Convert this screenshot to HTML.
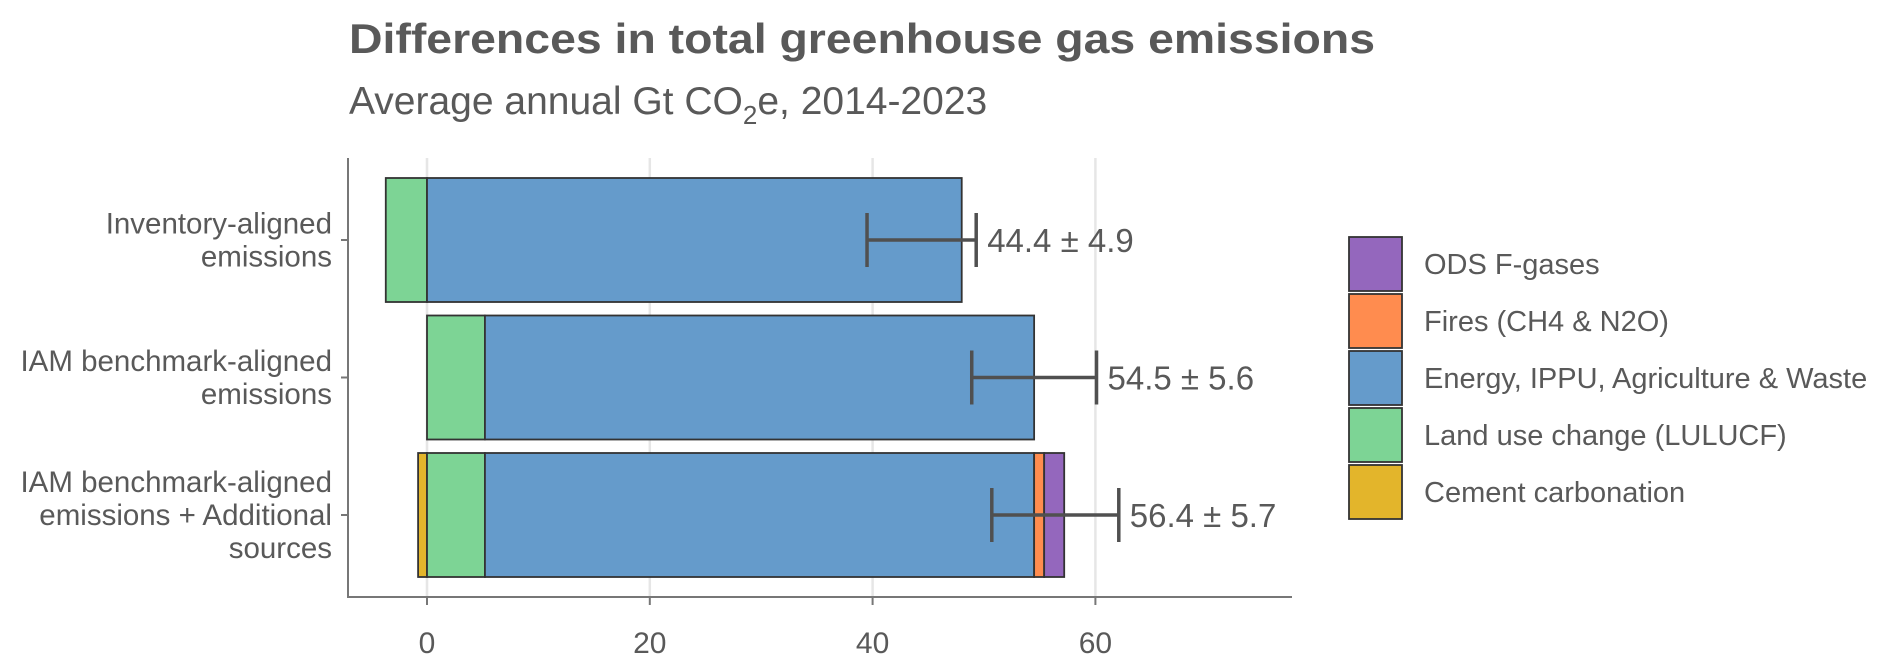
<!DOCTYPE html>
<html><head><meta charset="utf-8"><style>
html,body{margin:0;padding:0;background:#fff;}
svg{display:block;font-family:"Liberation Sans",sans-serif;}
</style></head><body>
<svg id="chart" width="1892" height="671" viewBox="0 0 1892 671">
<text x="349" y="53" font-size="42" font-weight="bold" fill="#595959" textLength="1026" lengthAdjust="spacingAndGlyphs">Differences in total greenhouse gas emissions</text>
<text x="349" y="114" font-size="39" fill="#595959">Average annual Gt CO<tspan font-size="26" dy="10">2</tspan><tspan dy="-10">e, 2014-2023</tspan></text>
<g id="grid"></g><g id="bars"></g><g id="axes"></g><g id="legend"></g>
</svg>
<script>
const categories = [["Inventory-aligned","emissions"],["IAM benchmark-aligned","emissions"],["IAM benchmark-aligned","emissions + Additional","sources"]];
const cementValues = [0, 0, -0.8];
const luValues = [-3.7, 5.2, 5.2];
const energyValues = [48.0, 49.3, 49.3];
const firesValues = [0, 0, 0.9];
const odsValues = [0, 0, 1.8];
const totals = [44.4, 54.5, 56.4];
const errors = [4.9, 5.6, 5.7];
const xTicks = [0, 20, 40, 60];
const legendLabels = ["ODS F-gases","Fires (CH4 & N2O)","Energy, IPPU, Agriculture & Waste","Land use change (LULUCF)","Cement carbonation"];
const legendColors = ["#9467bd","#ff8c4f","#659bcb","#7dd495","#e3b52b"];

const NS="http://www.w3.org/2000/svg";
const X=v=>427+v*11.14;
const Y=i=>240+i*137.5;
const H=124;
function mk(tag,attrs,parent){const e=document.createElementNS(NS,tag);for(const k in attrs)e.setAttribute(k,attrs[k]);parent.appendChild(e);return e;}
const grid=document.getElementById('grid'),bars=document.getElementById('bars'),axes=document.getElementById('axes'),legend=document.getElementById('legend');
xTicks.forEach(t=>{
  const g=mk('line',{x1:X(t),x2:X(t),y1:158,y2:597,stroke:'#e6e6e6','stroke-width':2.5},grid);
  
  
  const tk=mk('line',{x1:X(t),x2:X(t),y1:597,y2:605,stroke:'#777','stroke-width':2},axes);
  
  
  const lb=mk('text',{x:X(t),y:653,'font-size':30,fill:'#595959','text-anchor':'middle'},axes);
  lb.textContent=t;
  
  
});
categories.forEach((cat,i)=>{
  const cy=Y(i),top=cy-H/2;
  const segs=[];
  segs.push([cementValues[i],0,4]);
  let pos=0;
  if(luValues[i]<0){segs.push([luValues[i],0,3]);}else{segs.push([0,luValues[i],3]);pos=luValues[i];}
  segs.push([pos,pos+energyValues[i],2]);pos+=energyValues[i];
  segs.push([pos,pos+firesValues[i],1]);pos+=firesValues[i];
  segs.push([pos,pos+odsValues[i],0]);pos+=odsValues[i];
  segs.forEach(s=>{
    const a=Math.min(s[0],s[1]),b=Math.max(s[0],s[1]);
    if(b-a<=0)return;
    const r=mk('rect',{x:X(a),y:top,width:X(b)-X(a),height:H,fill:legendColors[s[2]],stroke:'#333','stroke-width':1.8},bars);
    
    
  });
  const lo=X(totals[i]-errors[i]),hi=X(totals[i]+errors[i]);
  const eb=mk('path',{d:`M${lo},${cy}H${hi}M${lo},${cy-27}V${cy+27}M${hi},${cy-27}V${cy+27}`,stroke:'#505050','stroke-width':3.5,fill:'none'},bars);
  
  
  const vl=mk('text',{x:hi+11,y:cy+12,'font-size':33,fill:'#595959'},bars);
  vl.textContent=totals[i].toFixed(1)+' \u00b1 '+errors[i].toFixed(1);
  
  
  const n=cat.length,startY=cy+10-(n-1)*16.5;
  cat.forEach((line,j)=>{
    const t=mk('text',{x:332,y:startY+j*33,'font-size':29.5,fill:'#595959','text-anchor':'end'},axes);
    t.textContent=line;
    
    
  });
  const yt=mk('line',{x1:341,x2:348,y1:cy,y2:cy,stroke:'#777','stroke-width':2},axes);
  
  
});
const ya=mk('line',{x1:348,x2:348,y1:158,y2:598,stroke:'#777','stroke-width':2},axes);


const xa=mk('line',{x1:347,x2:1292,y1:597,y2:597,stroke:'#777','stroke-width':2},axes);


legendLabels.forEach((l,i)=>{
  const y=237+i*57;
  const r=mk('rect',{x:1349,y:y,width:53,height:54,fill:legendColors[i],stroke:'#333','stroke-width':1.8},legend);
  
  
  const t=mk('text',{x:1424,y:y+37,'font-size':29,fill:'#595959'},legend);
  t.textContent=l;
  
  
});
</script>
</body></html>
